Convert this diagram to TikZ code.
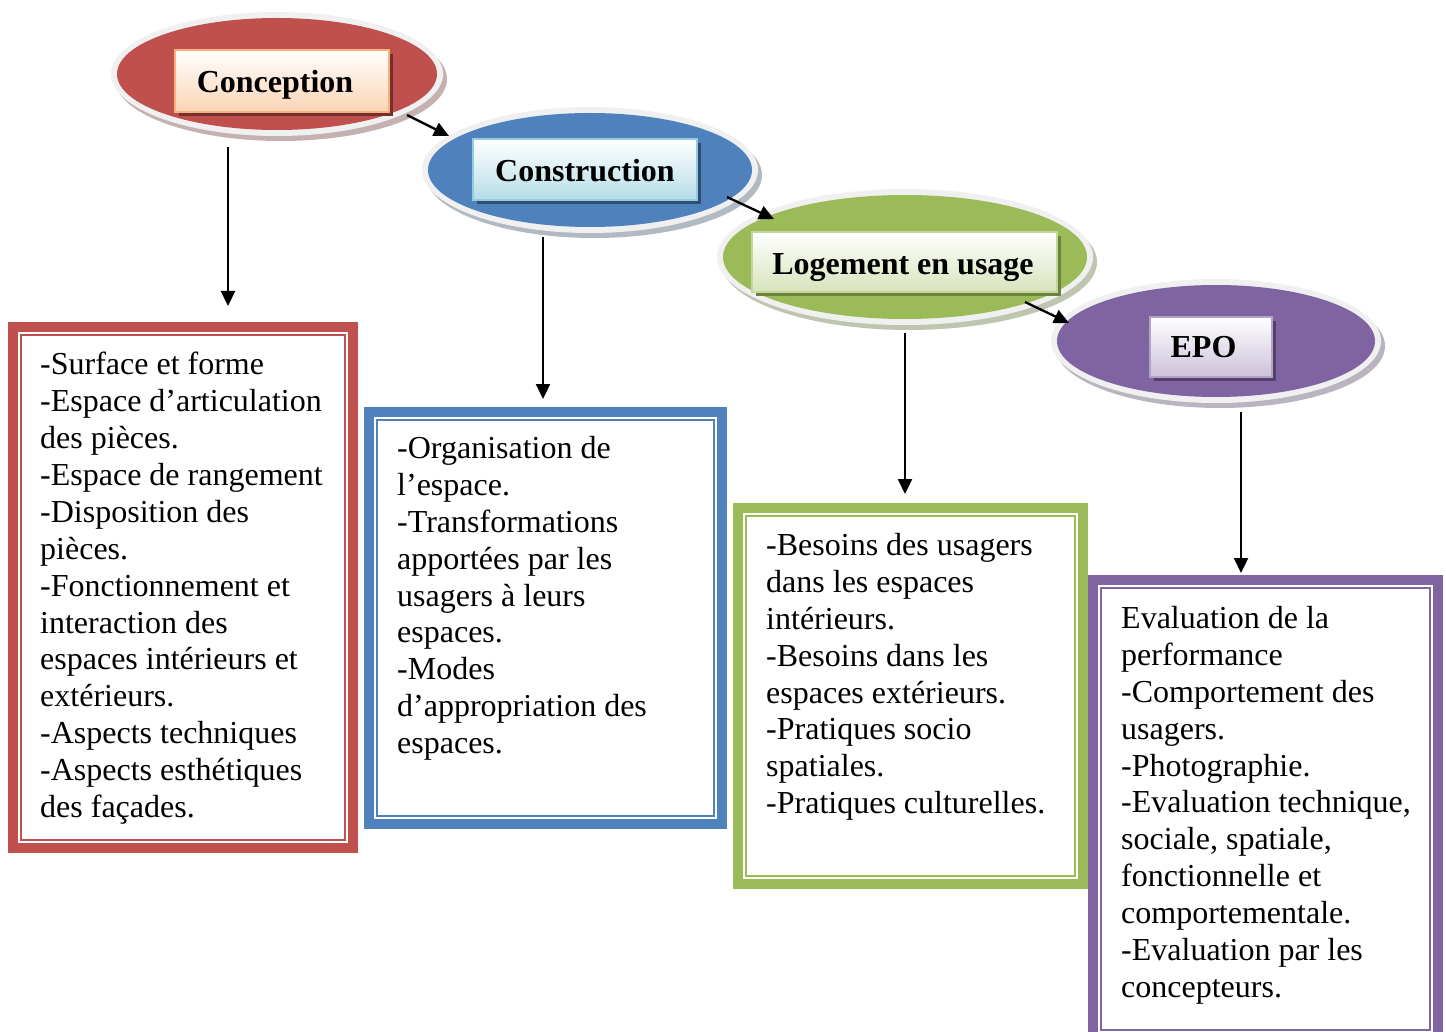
\documentclass[tikz,border=0pt]{standalone}
\usepackage{fontspec}
\setmainfont{Liberation Serif}
\usetikzlibrary{arrows.meta,shapes.geometric}

\definecolor{cred}{HTML}{C0504D}
\definecolor{cblue}{HTML}{4F81BD}
\definecolor{cgreen}{HTML}{9BBB59}
\definecolor{cpurple}{HTML}{8064A2}
\definecolor{ringgray}{HTML}{F0F0F0}
\definecolor{tagredline}{HTML}{F9B07C}
\definecolor{tagredfill}{HTML}{FBD4B4}
\definecolor{tagblueline}{HTML}{93CDDD}
\definecolor{tagbluefill}{HTML}{B6DDE8}
\definecolor{taggreenline}{HTML}{C3D69B}
\definecolor{taggreenfill}{HTML}{D7E4BD}
\definecolor{tagpurpleline}{HTML}{B3A2C7}
\definecolor{tagpurplefill}{HTML}{CCC1DA}

\tikzset{
  phase/.style={ellipse, inner sep=0pt, draw=none},
  ringshape/.style={ellipse, inner sep=0pt, fill=ringgray},
  tag/.style={rectangle, inner sep=0pt, line width=1.5pt, font=\fontsize{32}{38}\selectfont\bfseries},
  framebox/.style={line width=10pt},
  innerline/.style={line width=2.5pt},
  listtext/.style={anchor=north west, inner sep=0pt, align=left, font=\fontsize{32}{36.9}\selectfont},
  flow/.style={line width=2.3pt, -{Triangle[length=15pt,width=14pt]}},
}

\begin{document}
\begin{tikzpicture}[x=1pt,y=-1pt]
\useasboundingbox (0,0) rectangle (1446,1032);
\clip (0,0) rectangle (1446,1032);

% ---------- phase: Conception ----------
\fill[cred!30!gray!55] (281,79) ellipse (166 and 62);
\node[ringshape, minimum width=332pt, minimum height=124pt] (conR) at (277,74) {};
\node[phase, fill=cred, minimum width=320pt, minimum height=112pt] (conE) at (277,74) {};
\fill[cred!60!black] (179,54) rectangle (393,116);
\node[tag, draw=tagredline, top color=white, bottom color=tagredfill,
      minimum width=214pt, minimum height=62pt, text height=30pt, text depth=7pt]
      (conT) at (282,81) {Conception\hspace*{14pt}};

% ---------- phase: Construction ----------
\fill[cblue!30!gray!55] (594,175) ellipse (168 and 63);
\node[ringshape, minimum width=336pt, minimum height=126pt] (cstR) at (590,170) {};
\node[phase, fill=cblue, minimum width=324pt, minimum height=114pt] (cstE) at (590,170) {};
\fill[cblue!60!black] (477,143) rectangle (701,204);
\node[tag, draw=tagblueline, top color=white, bottom color=tagbluefill,
      minimum width=224pt, minimum height=61pt, text height=31pt, text depth=7pt]
      (cstT) at (585,169.5) {Construction};

% ---------- phase: Logement en usage ----------
\fill[cgreen!40!gray!55] (909,262) ellipse (188 and 68);
\node[ringshape, minimum width=376pt, minimum height=136pt] (logR) at (905,257) {};
\node[phase, fill=cgreen, minimum width=364pt, minimum height=124pt] (logE) at (905,257) {};
\fill[cgreen!70!black] (756,236) rectangle (1061,296);
\node[tag, draw=taggreenline, top color=white, bottom color=taggreenfill,
      minimum width=305pt, minimum height=60pt, text height=32pt, text depth=7pt]
      (logT) at (904.5,262) {Logement en usage\hspace*{3pt}};

% ---------- phase: EPO ----------
\fill[cpurple!35!gray!55] (1220,346) ellipse (165 and 62);
\node[ringshape, minimum width=330pt, minimum height=124pt] (epoR) at (1216,341) {};
\node[phase, fill=cpurple, minimum width=318pt, minimum height=112pt] (epoE) at (1216,341) {};
\fill[cpurple!65!black] (1154,321) rectangle (1276,381);
\node[tag, draw=tagpurpleline, top color=white, bottom color=tagpurplefill,
      minimum width=122pt, minimum height=60pt] (epoT) at (1211,347) {EPO\hspace*{15pt}};

% ---------- arrows between phases ----------
\coordinate (d1s) at (407,115); \coordinate (d1e) at (449,136);
\coordinate (d2s) at (727,197); \coordinate (d2e) at (774,219);
\coordinate (d3s) at (1025,302); \coordinate (d3e) at (1069,323);
\draw[flow] (d1s) -- (d1e);
\draw[flow] (d2s) -- (d2e);
\draw[flow] (d3s) -- (d3e);

% ---------- vertical arrows ----------
\coordinate (v1s) at (228,147); \coordinate (v1e) at (228,306);
\coordinate (v2s) at (543,237); \coordinate (v2e) at (543,399);
\coordinate (v3s) at (905,333); \coordinate (v3e) at (905,494);
\coordinate (v4s) at (1241,412); \coordinate (v4e) at (1241,573);
\draw[flow] (v1s) -- (v1e);
\draw[flow] (v2s) -- (v2e);
\draw[flow] (v3s) -- (v3e);
\draw[flow] (v4s) -- (v4e);

% ---------- detail boxes ----------
\draw[framebox, cred] (13,327) rectangle (353,848);
\draw[innerline, cred] (21,335) rectangle (345,840);
\draw[framebox, cblue] (369,412) rectangle (722,824);
\draw[innerline, cblue] (377,420) rectangle (714,816);
\draw[framebox, cgreen] (738,508) rectangle (1083,884);
\draw[innerline, cgreen] (746,516) rectangle (1075,876);
\draw[framebox, cpurple] (1093,580) rectangle (1438,1045);
\draw[innerline, cpurple] (1101,588) rectangle (1430,1030);

\node[listtext] (conL) at (40,352) {-Surface et forme\\-Espace d’articulation\\des pièces.\\-Espace de rangement\\-Disposition des\\pièces.\\-Fonctionnement et\\interaction des\\espaces intérieurs et\\extérieurs.\\-Aspects techniques\\-Aspects esthétiques\\des façades.};

\node[listtext] (cstL) at (397,436) {-Organisation de\\l’espace.\\-Transformations\\apportées par les\\usagers à leurs\\espaces.\\-Modes\\d’appropriation des\\espaces.};

\node[listtext] (logL) at (766,533) {-Besoins des usagers\\dans les espaces\\intérieurs.\\-Besoins dans les\\espaces extérieurs.\\-Pratiques socio\\spatiales.\\-Pratiques culturelles.};

\node[listtext] (epoL) at (1121,606) {Evaluation de la\\performance\\-Comportement des\\usagers.\\-Photographie.\\-Evaluation technique,\\sociale, spatiale,\\fonctionnelle et\\comportementale.\\-Evaluation par les\\concepteurs.};
\end{tikzpicture}
\end{document}
